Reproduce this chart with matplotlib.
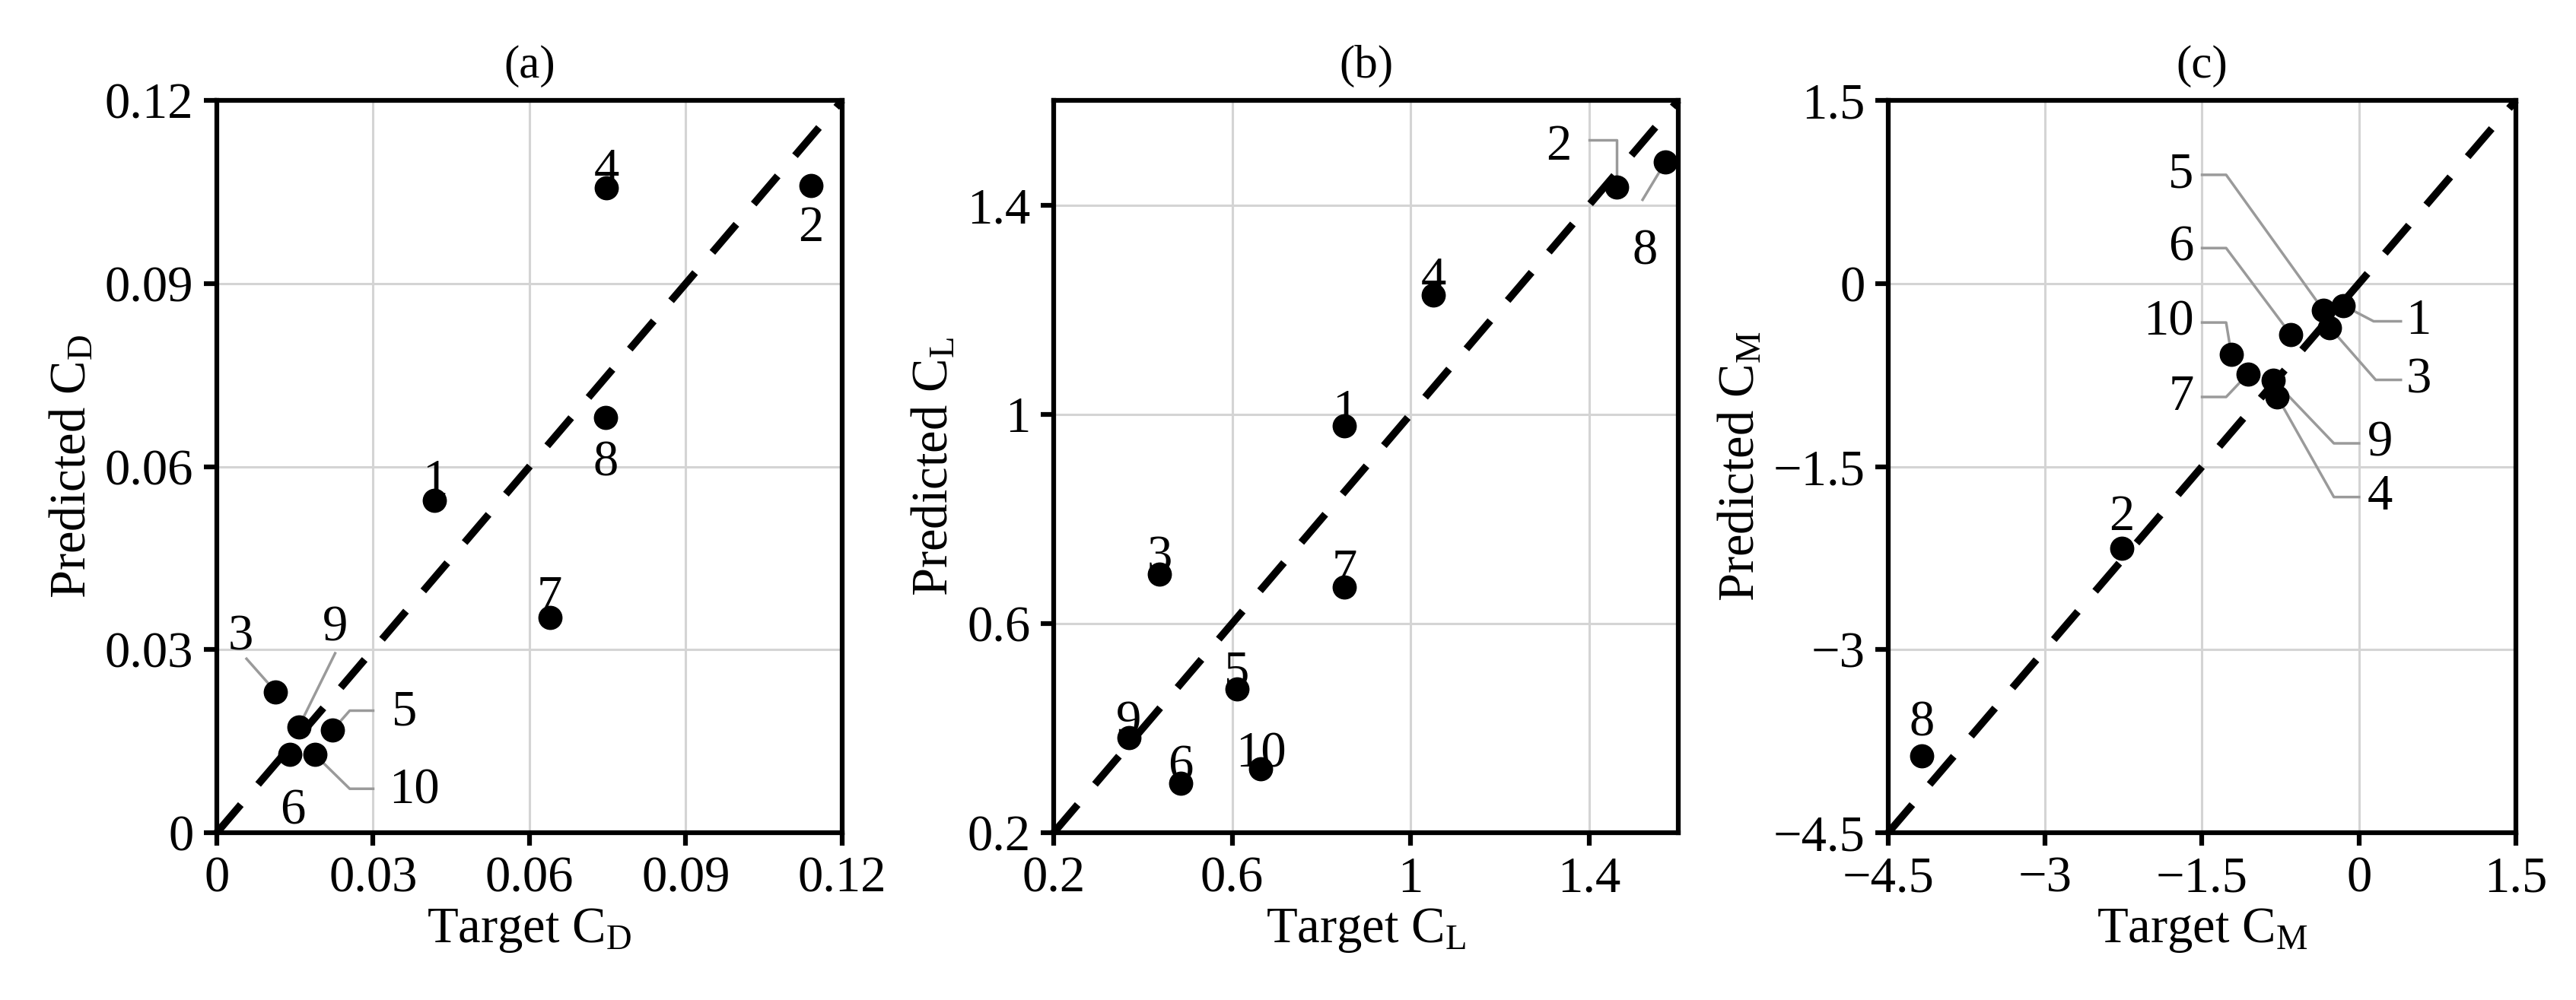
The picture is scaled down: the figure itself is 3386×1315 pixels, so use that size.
import matplotlib
matplotlib.use("Agg")
import matplotlib.pyplot as plt

plt.rcParams['font.family'] = ['Liberation Serif', 'DejaVu Serif']
plt.rcParams['mathtext.fontset'] = 'custom'
plt.rcParams['mathtext.rm'] = 'Liberation Serif'
plt.rcParams['mathtext.it'] = 'Liberation Serif'

case_ids = [1, 2, 3, 4, 5, 6, 7, 8, 9, 10]

cd_target = [0.0418, 0.114, 0.0113, 0.0748, 0.0222, 0.0140, 0.0639, 0.0746, 0.0157, 0.0188]
cd_pred   = [0.0545, 0.106, 0.0231, 0.1057, 0.0168, 0.0128, 0.0353, 0.0680, 0.0173, 0.0128]

cl_target = [0.852, 1.462, 0.437, 1.051, 0.611, 0.484, 0.852, 1.571, 0.368, 0.664]
cl_pred   = [0.978, 1.434, 0.695, 1.228, 0.475, 0.294, 0.670, 1.482, 0.381, 0.322]

cm_target = [-0.15, -2.27, -0.28, -0.78, -0.34, -0.65, -1.06, -4.18, -0.82, -1.22]
cm_pred   = [-0.18, -2.17, -0.36, -0.93, -0.22, -0.42, -0.74, -3.87, -0.79, -0.58]

cd_ticks = [0, 0.03, 0.06, 0.09, 0.12]
cl_ticks = [0.2, 0.6, 1.0, 1.4]
cm_ticks = [-4.5, -3, -1.5, 0, 1.5]

# label placement: id -> (text x, text y, ha, leader path (excluding the point))
labels_a = {
    1: (0.0418, 0.0575, 'center', None), 2: (0.114, 0.099, 'center', None),
    3: (0.0045, 0.032, 'center', [(0.0057, 0.0285)]),
    4: (0.0748, 0.1085, 'center', None), 5: (0.0335, 0.0197, 'left', [(0.030, 0.0200), (0.0255, 0.0200)]),
    6: (0.0145, 0.0035, 'center', None), 7: (0.0639, 0.0385, 'center', None),
    8: (0.0746, 0.0605, 'center', None), 9: (0.0227, 0.0335, 'center', [(0.0227, 0.0294)]),
    10: (0.0330, 0.0068, 'left', [(0.030, 0.0072), (0.0255, 0.0072)]),
}
labels_b = {
    1: (0.852, 1.005, 'center', None), 2: (1.36, 1.51, 'right', [(1.40, 1.525), (1.462, 1.525)]),
    3: (0.437, 0.725, 'center', None), 4: (1.051, 1.258, 'center', None),
    5: (0.611, 0.505, 'center', None), 6: (0.484, 0.325, 'center', None),
    7: (0.852, 0.70, 'center', None), 8: (1.525, 1.31, 'center', [(1.52, 1.41)]),
    9: (0.368, 0.41, 'center', None), 10: (0.664, 0.35, 'center', None),
}
labels_c = {
    1: (0.45, -0.31, 'left', [(0.40, -0.31), (0.14, -0.31)]),
    2: (-2.27, -1.92, 'center', None),
    3: (0.45, -0.79, 'left', [(0.40, -0.79), (0.16, -0.79)]),
    4: (0.08, -1.75, 'left', [(0.0, -1.75), (-0.24, -1.75)]),
    5: (-1.58, 0.89, 'right', [(-1.5, 0.89), (-1.27, 0.89)]),
    6: (-1.58, 0.29, 'right', [(-1.5, 0.29), (-1.27, 0.29)]),
    7: (-1.58, -0.93, 'right', [(-1.5, -0.93), (-1.27, -0.93)]),
    8: (-4.18, -3.6, 'center', None),
    9: (0.08, -1.31, 'left', [(0.0, -1.31), (-0.24, -1.31)]),
    10: (-1.58, -0.32, 'right', [(-1.5, -0.32), (-1.27, -0.32)]),
}

fig = plt.figure(figsize=(33.87, 13.15), dpi=100)
H = 1315.0; W = 3387.0
boxes = [(285, 1107), (1385, 2206), (2482, 3307)]
ytop, ybot = 132, 1095

panels = [
    ('(a)', cd_target, cd_pred, cd_ticks, ['0', '0.03', '0.06', '0.09', '0.12'], 'D', labels_a),
    ('(b)', cl_target, cl_pred, cl_ticks, ['0.2', '0.6', '1', '1.4'], 'L', labels_b),
    ('(c)', cm_target, cm_pred, cm_ticks, ['\u22124.5', '\u22123', '\u22121.5', '0', '1.5'], 'M', labels_c),
]
lims = [(0, 0.12), (0.2, 1.6), (-4.5, 1.5)]
fs = 48
for (x0, x1), (title, xt, yp, ticks, tlabels, sub, labs), lim in zip(boxes, panels, lims):
    ax = fig.add_axes([x0 / W, 1 - ybot / H, (x1 - x0) / W, (ybot - ytop) / H])
    ax.set_xlim(lim); ax.set_ylim(lim)
    ax.set_xticks(ticks); ax.set_yticks(ticks)
    ax.set_xticklabels(tlabels, fontsize=fs); ax.set_yticklabels(tlabels, fontsize=fs)
    ax.grid(True, color='#d4d4d4', lw=2.2)
    ax.set_axisbelow(True)
    for s in ax.spines.values():
        s.set_linewidth(4.5)
    ax.tick_params(direction='out', length=12, width=4.5, pad=10)
    ax.plot([0, 1], [0, 1], transform=ax.transAxes, color='black', lw=7,
            dashes=(5, 3.6), zorder=3, clip_on=False)
    ax.scatter(xt, yp, s=480, color='black', zorder=5, clip_on=False)
    for i, cid in enumerate(case_ids):
        tx, ty, ha, path = labs[cid]
        if path:
            xs = [p[0] for p in path] + [xt[i]]
            ys = [p[1] for p in path] + [yp[i]]
            ax.plot(xs, ys, color='#9a9a9a', lw=2.5, zorder=4)
        ax.text(tx, ty, str(cid), fontsize=fs, ha=ha, va='center', zorder=6)
    ax.set_title(title, fontsize=44, pad=22)
    ax.set_xlabel('Target C$_{\\mathrm{' + sub + '}}$', fontsize=fs, labelpad=4)
    ax.set_ylabel('Predicted C$_{\\mathrm{' + sub + '}}$', fontsize=fs, labelpad=8)

fig.savefig('out.png', dpi=100)
